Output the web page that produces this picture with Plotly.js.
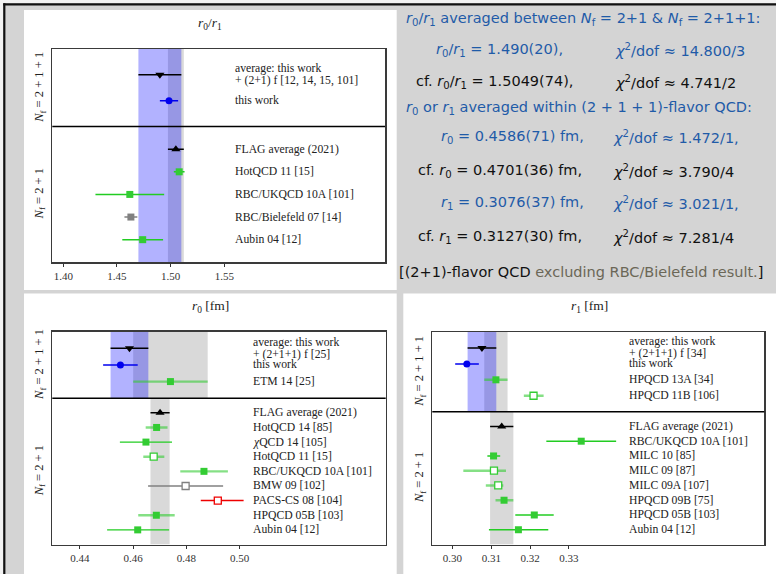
<!DOCTYPE html>
<html>
<head>
<meta charset="utf-8">
<script src="https://cdn.plot.ly/plotly-3.0.1.min.js"></script>
<style>
  html, body { margin: 0; padding: 0; background: #ffffff; }
  #chart { width: 776px; height: 574px; }
</style>
</head>
<body>
<div id="chart"></div>
<script>
// ---------- r0/r1 ratio ----------
const ratioTicks = [1.40, 1.45, 1.50, 1.55];
const ratioTopNames = ['average: this work\n+ (2+1) f [12, 14, 15, 101]', 'this work'];
const ratioTopValues = [1.490, 1.4985];
const ratioTopErrLo = [0.020, 0.0085];
const ratioTopErrHi = [0.020, 0.0085];
const ratioBottomNames = ['FLAG average (2021)', 'HotQCD 11 [15]', 'RBC/UKQCD 10A [101]', 'RBC/Bielefeld 07 [14]', 'Aubin 04 [12]'];
const ratioBottomValues = [1.5049, 1.508, 1.462, 1.463, 1.474];
const ratioBottomErrLo = [0.0074, 0.005, 0.032, 0.006, 0.019];
const ratioBottomErrHi = [0.0074, 0.005, 0.032, 0.006, 0.019];

// ---------- r0 [fm] ----------
const r0Ticks = [0.44, 0.46, 0.48, 0.50];
const r0TopNames = ['average: this work\n+ (2+1+1) f [25]', 'this work', 'ETM 14 [25]'];
const r0TopValues = [0.4586, 0.4552, 0.474];
const r0TopErrLo = [0.0071, 0.0065, 0.014];
const r0TopErrHi = [0.0071, 0.0065, 0.014];
const r0BottomNames = ['FLAG average (2021)', 'HotQCD 14 [85]', '<i>χ</i>QCD 14 [105]', 'HotQCD 11 [15]', 'RBC/UKQCD 10A [101]', 'BMW 09 [102]', 'PACS-CS 08 [104]', 'HPQCD 05B [103]', 'Aubin 04 [12]'];
const r0BottomValues = [0.4701, 0.4688, 0.4648, 0.4677, 0.4866, 0.4797, 0.4918, 0.4687, 0.4617];
const r0BottomErrLo = [0.0036, 0.0041, 0.0098, 0.0039, 0.0089, 0.0141, 0.0064, 0.0068, 0.0115];
const r0BottomErrHi = [0.0036, 0.0041, 0.0098, 0.0040, 0.0090, 0.0141, 0.0097, 0.0069, 0.0118];

// ---------- r1 [fm] ----------
const r1Ticks = [0.30, 0.31, 0.32, 0.33];
const r1TopNames = ['average: this work\n+ (2+1+1) f [34]', 'this work', 'HPQCD 13A [34]', 'HPQCD 11B [106]'];
const r1TopValues = [0.3076, 0.3037, 0.3112, 0.3209];
const r1TopErrLo = [0.0037, 0.0030, 0.0030, 0.0025];
const r1TopErrHi = [0.0037, 0.0031, 0.0030, 0.0026];
const r1BottomNames = ['FLAG average (2021)', 'RBC/UKQCD 10A [101]', 'MILC 10 [85]', 'MILC 09 [87]', 'MILC 09A [107]', 'HPQCD 09B [75]', 'HPQCD 05B [103]', 'Aubin 04 [12]'];
const r1BottomValues = [0.3127, 0.3332, 0.3106, 0.3107, 0.3118, 0.3133, 0.3211, 0.3170];
const r1BottomErrLo = [0.0030, 0.0090, 0.0016, 0.0079, 0.0032, 0.0022, 0.0049, 0.0076];
const r1BottomErrHi = [0.0030, 0.0090, 0.0017, 0.0031, 0.0013, 0.0024, 0.0050, 0.0077];

// ---------- chi^2/dof of the averages ----------
const chi2Ratio = ['14.800/3', '4.741/2'];
const chi2R0 = ['1.472/1,', '3.790/4'];
const chi2R1 = ['3.021/1,', '7.281/4'];

// ================= drawing =================
const W = 776, H = 574;
const PX = x => x / W;
const PY = y => 1 - y / H;
const SERIF = 'Liberation Serif, Times New Roman, serif';
const SANS = 'DejaVu Sans, Arial, sans-serif';
const INK = '#222222';
const TEXT_BLUE = '#1f5ba8';
const TEXT_MUTED = '#6b6757';
const GRAY_BAND = '#d9d9d9';
const BLUE_BAND = 'rgba(0,0,255,0.3)';
const LABEL_SIZE = 11.7;

const STYLES = {
  avg:      {symbol: 'triangle-down', size: 8, fill: '#000000', edge: '#000000', ew: 0, bar: '#000000', bw: 1.5},
  flag:     {symbol: 'triangle-up',   size: 8, fill: '#000000', edge: '#000000', ew: 0, bar: '#000000', bw: 1.5},
  work:     {symbol: 'circle',        size: 7, fill: '#0000ee', edge: '#0000ee', ew: 0, bar: '#0000ee', bw: 1.5},
  green:    {symbol: 'square',        size: 7, fill: '#33cc33', edge: '#33cc33', ew: 0, bar: '#22cc22', bw: 1.4},
  soft:     {symbol: 'square',        size: 7, fill: '#33cc33', edge: '#33cc33', ew: 0, bar: 'rgba(51,204,51,0.6)', bw: 2.4},
  softOpen: {symbol: 'square',        size: 7, fill: '#ffffff', edge: '#33cc33', ew: 1.3, bar: 'rgba(51,204,51,0.6)', bw: 2.4},
  gray:     {symbol: 'square',        size: 7, fill: '#808080', edge: '#808080', ew: 0, bar: '#808080', bw: 1.5},
  grayOpen: {symbol: 'square',        size: 7, fill: '#ffffff', edge: '#808080', ew: 1.3, bar: '#808080', bw: 1.5},
  redOpen:  {symbol: 'square',        size: 7, fill: '#ffffff', edge: '#ee0000', ew: 1.3, bar: '#ee0000', bw: 1.5}
};

const panels = [
  {
    xa: 'x', ya: 'y', domainX: [PX(52.3), PX(385)], domainY: [PY(262.3), PY(49)],
    range: [1.3898, 1.6997], ticks: ratioTicks,
    title: '<i>r</i><sub>0</sub>/<i>r</i><sub>1</sub>', titleAt: [210, 24], nfX: 40, labelX: 0.5475,
    top: {names: ratioTopNames, values: ratioTopValues, lo: ratioTopErrLo, hi: ratioTopErrHi, kinds: ['avg', 'work']},
    bottom: {names: ratioBottomNames, values: ratioBottomValues, lo: ratioBottomErrLo, hi: ratioBottomErrHi,
             kinds: ['flag', 'green', 'green', 'gray', 'green']},
    bands: [
      {where: 'all', v: ratioBottomValues[0], e: ratioBottomErrLo[0], color: GRAY_BAND},
      {where: 'all', v: ratioTopValues[0], e: ratioTopErrLo[0], color: BLUE_BAND}
    ]
  },
  {
    xa: 'x2', ya: 'y2', domainX: [PX(52.3), PX(385.7)], domainY: [PY(544.5), PY(331.7)],
    range: [0.4296, 0.5549], ticks: r0Ticks,
    title: '<i>r</i><sub>0</sub> [fm]', titleAt: [210.5, 306.7], nfX: 40, labelX: 0.598,
    top: {names: r0TopNames, values: r0TopValues, lo: r0TopErrLo, hi: r0TopErrHi, kinds: ['avg', 'work', 'soft']},
    bottom: {names: r0BottomNames, values: r0BottomValues, lo: r0BottomErrLo, hi: r0BottomErrHi,
             kinds: ['flag', 'soft', 'green', 'softOpen', 'soft', 'grayOpen', 'redOpen', 'soft', 'green']},
    bands: [
      {where: 'top', v: r0TopValues[2], e: r0TopErrLo[2], color: GRAY_BAND},
      {where: 'bottom', v: r0BottomValues[0], e: r0BottomErrLo[0], color: GRAY_BAND},
      {where: 'top', v: r0TopValues[0], e: r0TopErrLo[0], color: BLUE_BAND}
    ]
  },
  {
    xa: 'x3', ya: 'y3', domainX: [PX(432.3), PX(764.3)], domainY: [PY(544.5), PY(332)],
    range: [0.2948, 0.3804], ticks: r1Ticks,
    title: '<i>r</i><sub>1</sub> [fm]', titleAt: [589.3, 306.7], nfX: 420, labelX: 0.5886,
    top: {names: r1TopNames, values: r1TopValues, lo: r1TopErrLo, hi: r1TopErrHi, kinds: ['avg', 'work', 'soft', 'softOpen']},
    bottom: {names: r1BottomNames, values: r1BottomValues, lo: r1BottomErrLo, hi: r1BottomErrHi,
             kinds: ['flag', 'green', 'green', 'softOpen', 'softOpen', 'soft', 'green', 'green']},
    bands: [
      {where: 'top', v: r1TopValues[2], e: r1TopErrLo[2], color: GRAY_BAND},
      {where: 'bottom', v: r1BottomValues[0], e: r1BottomErrLo[0], color: GRAY_BAND},
      {where: 'top', v: r1TopValues[0], e: r1TopErrLo[0], color: BLUE_BAND}
    ]
  }
];

const traces = [];
const shapes = [];
const annotations = [];
const layout = {
  width: W, height: H,
  margin: {l: 0, r: 0, t: 0, b: 0, pad: 0},
  paper_bgcolor: '#d4d4d4',
  plot_bgcolor: 'rgba(0,0,0,0)',
  showlegend: false,
  hovermode: false
};

// page frame: white panels on a gray sheet with a dark border on two edges
[[24, 10, 396.7, 290], [24, 293.5, 396.7, 574], [403.3, 293.5, 776, 574]].forEach(([x0, y0, x1, y1]) => {
  shapes.push({type: 'rect', xref: 'paper', yref: 'paper', layer: 'below',
    x0: PX(x0), x1: PX(x1), y0: PY(y1), y1: PY(y0), fillcolor: '#ffffff', line: {width: 0}});
});
shapes.push({type: 'rect', xref: 'paper', yref: 'paper', layer: 'below', x0: 0, x1: 1, y0: PY(3.2), y1: 1, fillcolor: '#f2f2f2', line: {width: 0}});
shapes.push({type: 'rect', xref: 'paper', yref: 'paper', layer: 'below', x0: 0, x1: PX(3.2), y0: 0, y1: 1, fillcolor: '#f2f2f2', line: {width: 0}});
shapes.push({type: 'line', xref: 'paper', yref: 'paper', x0: PX(3.3), x1: 1, y0: PY(4.3), y1: PY(4.3), line: {color: '#111111', width: 2.2}});
shapes.push({type: 'line', xref: 'paper', yref: 'paper', x0: PX(4.3), x1: PX(4.3), y0: 0, y1: PY(3.3), line: {color: '#111111', width: 2.2}});

panels.forEach(p => {
  const nTop = p.top.values.length, nBot = p.bottom.values.length;
  const sep = (nTop + 2) / (nTop + nBot + 4);
  const topPos = i => sep * (i + 1) / (nTop + 1);
  const botPos = j => sep + (1 - sep) * (j + 1) / (nBot + 1);
  const xKey = p.xa.replace('x', 'xaxis'), yKey = p.ya.replace('y', 'yaxis');

  layout[xKey] = {
    domain: p.domainX, range: p.range, anchor: p.ya, fixedrange: true,
    tickvals: p.ticks, ticktext: p.ticks.map(t => t.toFixed(2)),
    ticks: 'outside', ticklen: 3, tickwidth: 1, tickcolor: '#333333',
    tickfont: {family: SERIF, size: 11, color: '#333333'},
    showline: true, mirror: true, linecolor: '#3a3a3a', linewidth: 1.5,
    showgrid: false, zeroline: false
  };
  layout[yKey] = {
    domain: p.domainY, range: [1, 0], anchor: p.xa, fixedrange: true,
    showticklabels: false, ticks: '', showline: true, mirror: true,
    linecolor: '#3a3a3a', linewidth: 1.5, showgrid: false, zeroline: false
  };

  // shaded averages
  p.bands.forEach(b => {
    const y0 = b.where === 'bottom' ? sep : 0;
    const y1 = b.where === 'top' ? sep : 1;
    shapes.push({type: 'rect', xref: p.xa, yref: p.ya, layer: 'below',
      x0: b.v - b.e, x1: b.v + b.e, y0: y0, y1: y1, fillcolor: b.color, line: {width: 0}});
  });

  // divider between the 2+1+1 and 2+1 sections
  shapes.push({type: 'line', xref: p.xa + ' domain', yref: p.ya, x0: 0, x1: 1, y0: sep, y1: sep,
    line: {color: '#000000', width: 1.4}});

  const addRows = (sec, posFn) => {
    sec.values.forEach((v, i) => {
      const st = STYLES[sec.kinds[i]];
      const y = posFn(i);
      traces.push({
        type: 'scatter', mode: 'markers', x: [v], y: [y], xaxis: p.xa, yaxis: p.ya,
        cliponaxis: false,
        marker: {symbol: st.symbol, size: st.size, color: st.fill, line: {color: st.edge, width: st.ew}},
        error_x: {type: 'data', symmetric: false, array: [sec.hi[i]], arrayminus: [sec.lo[i]],
                  color: st.bar, thickness: st.bw, width: 0}
      });
      const lines = sec.names[i].split('\n');
      lines.forEach((t, k) => {
        const shift = lines.length === 1 ? 0 : (k === 0 ? 6.2 : -5.8);
        annotations.push({xref: p.xa + ' domain', yref: p.ya, x: p.labelX, y: y, yshift: shift,
          xanchor: 'left', yanchor: 'middle', showarrow: false, text: t, borderpad: 0,
          font: {family: SERIF, size: LABEL_SIZE, color: INK}});
      });
    });
  };
  addRows(p.top, topPos);
  addRows(p.bottom, botPos);

  // section labels and panel title
  [['<i>N</i><sub>f</sub> = 2 + 1 + 1', sep / 2], ['<i>N</i><sub>f</sub> = 2 + 1', (1 + sep) / 2]].forEach(([t, yc]) => {
    annotations.push({xref: 'paper', yref: p.ya, x: PX(p.nfX), y: yc, textangle: -90,
      xanchor: 'center', yanchor: 'middle', showarrow: false, text: t,
      font: {family: SERIF, size: 12.5, color: INK}});
  });
  annotations.push({xref: 'paper', yref: 'paper', x: PX(p.titleAt[0]), y: PY(p.titleAt[1]),
    xanchor: 'center', yanchor: 'middle', showarrow: false, text: p.title,
    font: {family: SERIF, size: 13.5, color: INK}});
});

// ---------- summary of the averages ----------
const unc = (v, e, d) => v.toFixed(d) + '(' + Math.round(e * Math.pow(10, d)) + ')';
const R0 = '<i>r</i><sub>0</sub>', R1 = '<i>r</i><sub>1</sub>';
const NF = '<i>N</i><sub>f</sub>';
const CHI = '<i>χ</i><sup>2</sup>/dof ≈ ';
const summary = [
  {x: 405,   y: 19.3,  c: TEXT_BLUE, t: `${R0}/${R1} averaged between ${NF} = 2+1 &amp; ${NF} = 2+1+1:`},
  {x: 435,   y: 50,    c: TEXT_BLUE, t: `${R0}/${R1} = ${unc(ratioTopValues[0], ratioTopErrLo[0], 3)},`, chi: chi2Ratio[0], cx: 614},
  {x: 415,   y: 81.7,  c: '#111111', t: `cf. ${R0}/${R1} = ${unc(ratioBottomValues[0], ratioBottomErrLo[0], 4)},`, chi: chi2Ratio[1], cx: 614},
  {x: 405,   y: 108.3, c: TEXT_BLUE, t: `${R0} or ${R1} averaged within (2 + 1 + 1)-flavor QCD:`},
  {x: 440,   y: 137.3, c: TEXT_BLUE, t: `${R0} = ${unc(r0TopValues[0], r0TopErrLo[0], 4)} fm,`, chi: chi2R0[0], cx: 612},
  {x: 416.7, y: 170.7, c: '#111111', t: `cf. ${R0} = ${unc(r0BottomValues[0], r0BottomErrLo[0], 4)} fm,`, chi: chi2R0[1], cx: 612},
  {x: 440,   y: 203.3, c: TEXT_BLUE, t: `${R1} = ${unc(r1TopValues[0], r1TopErrLo[0], 4)} fm,`, chi: chi2R1[0], cx: 612},
  {x: 416.7, y: 237.3, c: '#111111', t: `cf. ${R1} = ${unc(r1BottomValues[0], r1BottomErrLo[0], 4)} fm,`, chi: chi2R1[1], cx: 612},
  {x: 398.3, y: 271.7, c: '#111111', t: `[(2+1)-flavor QCD <span style="color:${TEXT_MUTED}">excluding RBC/Bielefeld result.</span>]`}
];
summary.forEach(s => {
  annotations.push({xref: 'paper', yref: 'paper', x: PX(s.x), y: PY(s.y), xanchor: 'left', yanchor: 'middle',
    showarrow: false, text: s.t, borderpad: 0, font: {family: SANS, size: 14.5, color: s.c}});
  if (s.chi) {
    annotations.push({xref: 'paper', yref: 'paper', x: PX(s.cx), y: PY(s.y), xanchor: 'left', yanchor: 'middle',
      showarrow: false, text: CHI + s.chi, borderpad: 0, font: {family: SANS, size: 14.5, color: s.c}});
  }
});

layout.shapes = shapes;
layout.annotations = annotations;

Plotly.newPlot('chart', traces, layout, {displayModeBar: false, staticPlot: true});
</script>
</body>
</html>
